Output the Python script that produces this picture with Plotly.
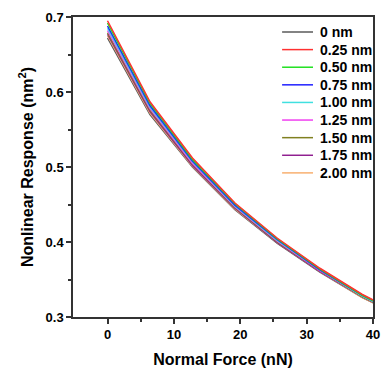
import plotly.graph_objects as go

force = [0, 6.4, 12.8, 19.2, 25.6, 32.0, 38.4, 44.8]
labels = ["0 nm", "0.25 nm", "0.50 nm", "0.75 nm", "1.00 nm", "1.25 nm", "1.50 nm", "1.75 nm", "2.00 nm"]
colors = ["#5a5a5a", "#ff3030", "#20e020", "#2020ff", "#40e0e0", "#f040f0", "#808020", "#902090", "#f8b070"]

resp_0   = [0.672, 0.570, 0.500, 0.443, 0.398, 0.360, 0.326, 0.298]
resp_025 = [0.695, 0.587, 0.512, 0.452, 0.405, 0.365, 0.330, 0.301]
resp_050 = [0.692, 0.585, 0.510, 0.451, 0.404, 0.364, 0.329, 0.300]
resp_075 = [0.688, 0.582, 0.508, 0.449, 0.403, 0.363, 0.329, 0.300]
resp_100 = [0.685, 0.580, 0.507, 0.448, 0.402, 0.363, 0.328, 0.299]
resp_125 = [0.682, 0.578, 0.505, 0.447, 0.401, 0.362, 0.328, 0.299]
resp_150 = [0.679, 0.576, 0.504, 0.446, 0.400, 0.362, 0.327, 0.299]
resp_175 = [0.677, 0.574, 0.502, 0.445, 0.399, 0.361, 0.327, 0.298]
resp_200 = [0.675, 0.572, 0.501, 0.444, 0.399, 0.361, 0.326, 0.298]

series = [resp_0, resp_025, resp_050, resp_075, resp_100, resp_125, resp_150, resp_175, resp_200]

fig = go.Figure()
order = [0, 8, 7, 6, 5, 4, 3, 2, 1]
for i in order:
    fig.add_trace(go.Scatter(x=force, y=series[i], mode="lines", name=labels[i],
                             line=dict(color=colors[i], width=1.5), showlegend=False))

# manual legend (compact spacing as in the reference)
leg_x0, leg_x1, leg_tx = 0.697, 0.800, 0.817
leg_y0, leg_dy = 0.95, 0.0587
for i, (lab, col) in enumerate(zip(labels, colors)):
    yy = leg_y0 - leg_dy * i
    fig.add_shape(type="line", xref="paper", yref="paper", x0=leg_x0, x1=leg_x1, y0=yy, y1=yy,
                  line=dict(color=col, width=1.5))
    fig.add_annotation(xref="paper", yref="paper", x=leg_tx, y=yy, text=lab, showarrow=False,
                       xanchor="left", yanchor="middle",
                       font=dict(size=14, weight="bold", color="black"))

fig.update_layout(
    width=383, height=368,
    margin=dict(l=73, r=10, t=17, b=51),
    paper_bgcolor="white", plot_bgcolor="white",
    font=dict(family="Liberation Sans, Arial, sans-serif", color="black"),
    showlegend=False,
)
fig.update_xaxes(range=[-5.2, 40], tickvals=[0, 10, 20, 30, 40], ticks="outside", ticklen=5,
                 tickwidth=1.5, tickcolor="#333", automargin=False,
                 minor=dict(tickvals=[5, 15, 25, 35], ticks="outside", ticklen=3, tickwidth=1.5, tickcolor="#333"),
                 showline=True, linecolor="#333", linewidth=1.5, mirror=True, showgrid=False, zeroline=False,
                 tickfont=dict(size=13, weight="bold"),
                 title=dict(text="Normal Force (nN)", font=dict(size=16, weight="bold"), standoff=12))
fig.update_yaxes(range=[0.3, 0.7], tickvals=[0.3, 0.4, 0.5, 0.6, 0.7], ticktext=["0.3", "0.4", "0.5", "0.6", "0.7"],
                 ticks="outside", ticklen=5, tickwidth=1.5, tickcolor="#333", automargin=False,
                 minor=dict(tickvals=[0.35, 0.45, 0.55, 0.65], ticks="outside", ticklen=3, tickwidth=1.5, tickcolor="#333"),
                 showline=True, linecolor="#333", linewidth=1.5, mirror=True, showgrid=False, zeroline=False,
                 tickfont=dict(size=13, weight="bold"),
                 title=dict(text="Nonlinear Response (nm<sup>2</sup>)", font=dict(size=16, weight="bold"), standoff=8))

fig.write_html("out.html")
